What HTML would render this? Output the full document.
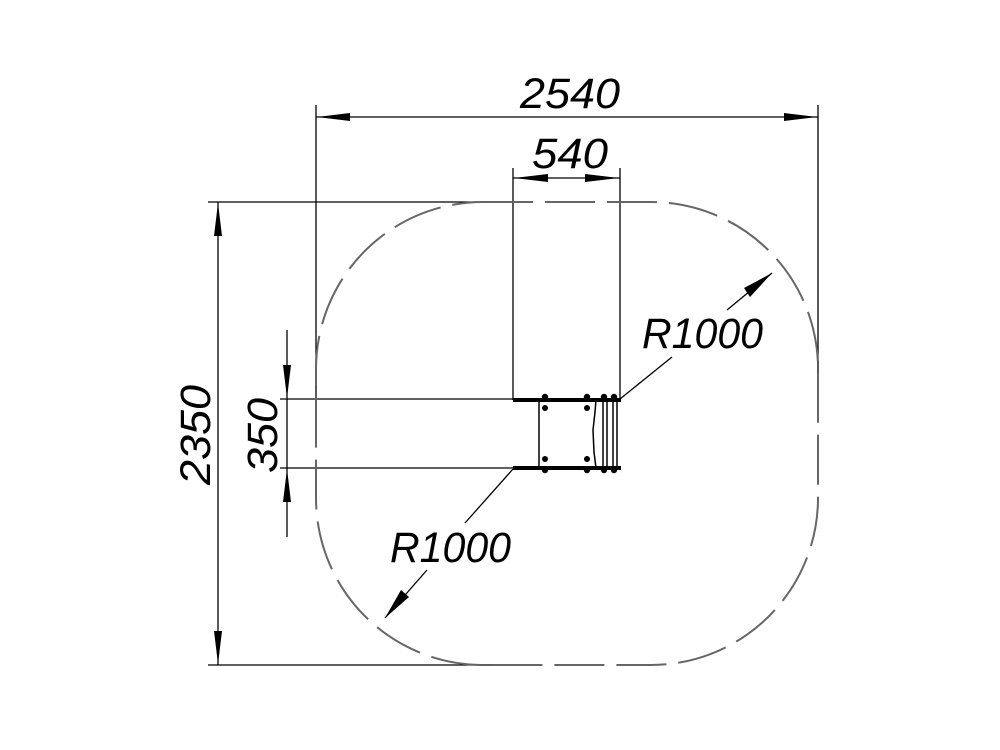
<!DOCTYPE html>
<html><head><style>html,body{margin:0;padding:0;background:#fff;}svg{display:block}</style></head>
<body>
<svg width="1000" height="750" viewBox="0 0 1000 750" xmlns="http://www.w3.org/2000/svg">
<g fill="none" stroke="#000" stroke-width="1.3">
  <!-- extension lines -->
  <line x1="316" y1="105" x2="316" y2="400"/>
  <line x1="818" y1="105" x2="818" y2="400"/>
  <line x1="513" y1="168" x2="513" y2="400"/>
  <line x1="620" y1="168" x2="620" y2="400"/>
  <line x1="208" y1="202" x2="513" y2="202"/>
  <line x1="208" y1="665" x2="520" y2="665"/>
  <line x1="280" y1="399" x2="513" y2="399"/>
  <line x1="280" y1="468" x2="513" y2="468"/>
  <!-- dimension lines -->
  <line x1="316" y1="117" x2="818" y2="117"/>
  <line x1="513" y1="178" x2="620" y2="178"/>
  <line x1="218" y1="202" x2="218" y2="665"/>
  <line x1="287" y1="330" x2="287" y2="537"/>
  <!-- leaders -->
  <line x1="620" y1="399" x2="672" y2="357"/>
  <line x1="727" y1="310" x2="772" y2="273"/>
  <line x1="513" y1="469" x2="465" y2="523"/>
  <line x1="427" y1="570" x2="385" y2="618"/>
</g>
<!-- dashed outline -->
<path d="M483,202 L651,202 A167,167 0 0 1 818,369 L818,498 A167,167 0 0 1 651,665 L483,665 A167,167 0 0 1 316,498 L316,369 A167,167 0 0 1 483,202 Z" fill="none" stroke="#666" stroke-width="2" stroke-dasharray="50,12"/>
<!-- arrowheads -->
<g fill="#000">
  <polygon points="317,117 350,113 350,121"/>
  <polygon points="817,117 784,113 784,121"/>
  <polygon points="514,178 548,174 548,182"/>
  <polygon points="619,178 585,174 585,182"/>
  <polygon points="218,203 214,236 222,236"/>
  <polygon points="218,664 214,631 222,631"/>
  <polygon points="287,398 283,365 291,365"/>
  <polygon points="287,469 283,502 291,502"/>
  <polygon points="772,273 744,288 750,297"/>
  <polygon points="385,618 401,590 409,597"/>
</g>
<!-- object -->
<g stroke="#000" fill="none">
  <line x1="513" y1="400" x2="621" y2="400" stroke-width="4"/>
  <line x1="513" y1="468" x2="621" y2="468" stroke-width="4"/>
  <line x1="539" y1="400" x2="539" y2="468" stroke-width="1.5"/>
  <path d="M596,400 L595,412 L593,430 L594,452 L596,468" stroke-width="1.5"/>
  <line x1="603" y1="400" x2="603" y2="468" stroke-width="1.5"/>
  <line x1="607" y1="400" x2="607" y2="468" stroke-width="1.5"/>
  <line x1="613" y1="400" x2="613" y2="468" stroke-width="1.5"/>
  <line x1="617" y1="400" x2="617" y2="468" stroke-width="1.5"/>
</g>
<g fill="#000">
  <circle cx="545" cy="397" r="3.2"/><circle cx="587" cy="397" r="3.2"/>
  <circle cx="604" cy="397" r="3.2"/><circle cx="614" cy="397" r="3.2"/>
  <circle cx="545" cy="470" r="3.2"/><circle cx="587" cy="470" r="3.2"/>
  <circle cx="604" cy="470" r="3.2"/><circle cx="614" cy="470" r="3.2"/>
  <circle cx="545" cy="408" r="3"/><circle cx="587" cy="408" r="3"/>
  <circle cx="545" cy="459" r="3"/><circle cx="587" cy="459" r="3"/>
</g>
<!-- text -->
<g font-family="Liberation Sans, sans-serif" font-style="italic" fill="#000" font-size="43">
  <text x="520" y="108" textLength="100" lengthAdjust="spacingAndGlyphs">2540</text>
  <text x="532" y="168" textLength="76" lengthAdjust="spacingAndGlyphs">540</text>
  <text x="642" y="348" textLength="121" lengthAdjust="spacingAndGlyphs">R1000</text>
  <text x="390" y="562" textLength="121" lengthAdjust="spacingAndGlyphs">R1000</text>
  <text transform="translate(210,485) rotate(-90)" x="0" y="0" textLength="100" lengthAdjust="spacingAndGlyphs">2350</text>
  <text transform="translate(277,473) rotate(-90)" x="0" y="0" textLength="75" lengthAdjust="spacingAndGlyphs">350</text>
</g>
</svg>
</body></html>
